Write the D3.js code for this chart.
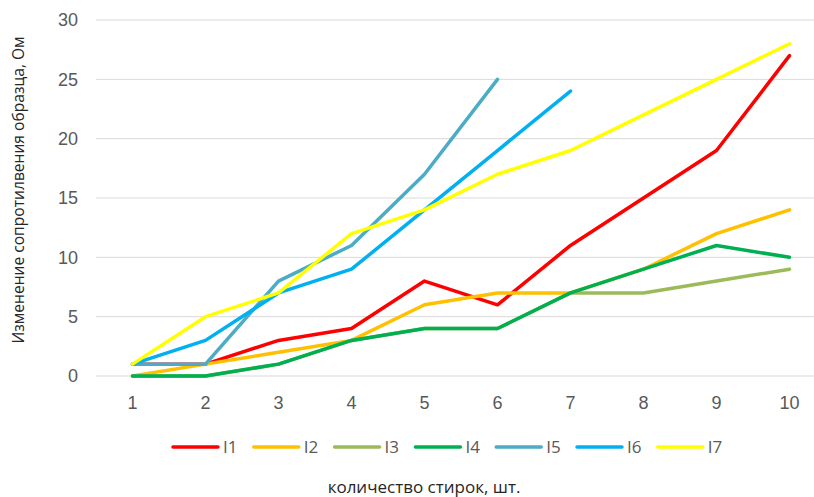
<!DOCTYPE html>
<html>
<head>
<meta charset="utf-8">
<script src="https://cdn.jsdelivr.net/npm/d3@7"></script>
<style>
  body { margin: 0; background: #fff; }
  svg { display: block; font-family: "Open Sans", sans-serif; }
  .tick text { fill: #595959; font-size: 18px; }
</style>
</head>
<body>
<div id="chart"></div>
<script>
// washes count
const categories = [1, 2, 3, 4, 5, 6, 7, 8, 9, 10];
const yTicks = [0, 5, 10, 15, 20, 25, 30];

const I1 = [1, 1, 3, 4, 8, 6, 11, 15, 19, 27];
const I2 = [0, 1, 2, 3, 6, 7, 7, 9, 12, 14];
const I3 = [0, 0, 1, 3, 4, 4, 7, 7, 8, 9];
const I4 = [0, 0, 1, 3, 4, 4, 7, 9, 11, 10];
const I5 = [1, 1, 8, 11, 17, 25];
const I6 = [1, 3, 7, 9, 14, 19, 24];
const I7 = [1, 5, 7, 12, 14, 17, 19, 22, 25, 28];

const seriesNames = ['I1', 'I2', 'I3', 'I4', 'I5', 'I6', 'I7'];
const seriesValues = [I1, I2, I3, I4, I5, I6, I7];
const colors = ['#ff0000', '#ffc000', '#9bbb59', '#00b050', '#4bacc6', '#00b0f0', '#ffff00'];

const width = 814, height = 497;
const margin = { top: 20, right: -12, bottom: 121, left: 96 };

const svg = d3.select('#chart').append('svg')
  .attr('width', width)
  .attr('height', height);

const x = d3.scaleBand()
  .domain(categories)
  .range([margin.left, width - margin.right]);

const y = d3.scaleLinear()
  .domain([0, 30])
  .range([height - margin.bottom, margin.top]);

// gridlines
svg.append('g')
  .selectAll('line')
  .data(yTicks)
  .join('line')
  .attr('x1', margin.left)
  .attr('x2', width - margin.right)
  .attr('y1', d => y(d))
  .attr('y2', d => y(d))
  .attr('stroke', '#d9d9d9')
  .attr('stroke-width', 1);

const yAxis = svg.append('g')
  .attr('transform', `translate(${margin.left},0)`)
  .call(d3.axisLeft(y).tickValues(yTicks).tickSize(0).tickPadding(18));
yAxis.select('.domain').remove();

const xAxis = svg.append('g')
  .attr('transform', `translate(0,${height - margin.bottom})`)
  .call(d3.axisBottom(x).tickSize(0).tickPadding(20));
xAxis.select('.domain').remove();

const line = d3.line()
  .x((d, i) => x(categories[i]) + x.bandwidth() / 2)
  .y(d => y(d));

svg.append('g')
  .selectAll('path')
  .data(seriesValues)
  .join('path')
  .attr('d', d => line(d))
  .attr('fill', 'none')
  .attr('stroke', (d, i) => colors[i])
  .attr('stroke-width', 3.5)
  .attr('stroke-linejoin', 'round')
  .attr('stroke-linecap', 'round');

// legend
const legend = svg.append('g')
  .attr('transform', 'translate(173,447)');

const item = legend.selectAll('g')
  .data(seriesNames)
  .join('g')
  .attr('transform', (d, i) => `translate(${i * 80.8},0)`);

item.append('line')
  .attr('x1', 0).attr('x2', 45)
  .attr('stroke', (d, i) => colors[i])
  .attr('stroke-width', 3.5)
  .attr('stroke-linecap', 'round');

item.append('text')
  .attr('x', 50)
  .attr('dy', '0.35em')
  .attr('fill', '#595959')
  .attr('font-size', 17)
  .text(d => d);

// axis titles
svg.append('text')
  .attr('x', 424)
  .attr('y', 493)
  .attr('text-anchor', 'middle')
  .attr('fill', '#262626')
  .attr('font-size', 17)
  .text('количество стирок, шт.');

svg.append('text')
  .attr('transform', 'translate(24,190) rotate(-90)')
  .attr('text-anchor', 'middle')
  .attr('fill', '#262626')
  .attr('font-size', 15.6)
  .text('Изменение сопротилвения образца, Ом');
</script>
</body>
</html>
